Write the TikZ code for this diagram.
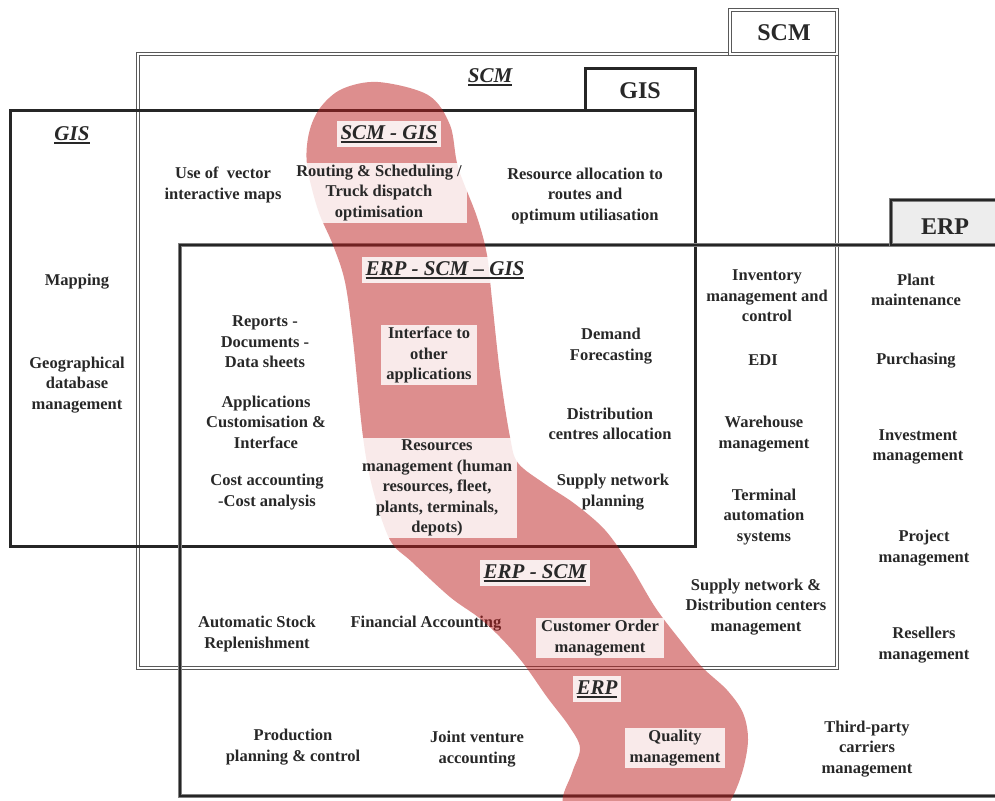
\documentclass[tikz,border=0pt]{standalone}
\usepackage{fontspec}
\setmainfont{Liberation Serif}
\newcommand\bodyfont{\fontsize{16.5}{20.5}\selectfont\bfseries}
\newcommand\headfont{\fontsize{21}{24}\selectfont\bfseries\itshape}
\newcommand\tabfont{\fontsize{24}{28}\selectfont\bfseries}
% text with a heavy rule beneath it
\newcommand\ulbar[1]{\setbox0\hbox{#1}\rlap{\rule[-3.5pt]{\wd0}{1.8pt}}\box0}
\definecolor{ink}{RGB}{40,40,40}
\definecolor{blobred}{RGB}{187,29,29}
\begin{document}
\begin{tikzpicture}[x=1pt,y=-1pt,
  scmline/.style={draw=black!65, line width=1.4pt, double=white, double distance=1.7pt},
  gisline/.style={draw=black!85, line width=3pt},
  erpline/.style={draw=black!50, line width=1.6pt, double=black!85, double distance=1.6pt},
  txt/.style={font=\bodyfont, text=ink, align=center, inner sep=0pt},
  lab/.style={txt, fill=white, fill opacity=0.82, text opacity=1, inner xsep=5pt, inner ysep=2pt},
  head/.style={font=\headfont, text=ink, inner sep=0pt},
  headlab/.style={head, fill=white, fill opacity=0.85, text opacity=1, inner xsep=4pt, inner ysep=4pt},
  tablabel/.style={font=\tabfont, text=ink, inner sep=0pt},
  blob/.style={fill=blobred, fill opacity=0.5}]
\useasboundingbox (0,0) rectangle (995,800);

% ---- system boundaries ----
\draw[scmline] (138,54) rectangle (837,668);
\draw[scmline, fill=white] (730,10) rectangle (837,54);
\draw[gisline] (10,110) rectangle (695,546);
\draw[gisline, fill=white] (585,68) rectangle (695,110);
\draw[erpline] (180,245) rectangle (1010,796);
\draw[erpline, fill=black!7] (891,200) rectangle (1010,245);

\node[tablabel] (tscm) at (784,33) {SCM};
\node[tablabel] (tgis) at (640,91) {GIS};
\node[tablabel] (terp) at (945,227) {ERP};

% ---- area headings ----
\node[head] (gisH) at (72,135) {\ulbar{GIS}};
\node[head] (scmH) at (490,77) {\ulbar{SCM}};

% ---- GIS only ----
\node[txt] (mapping) at (77,282) {Mapping};
\node[txt] (geodb) at (77,385) {Geographical\\database\\management};

% ---- SCM and GIS ----
\node[txt] (vector) at (223,185) {Use of\ \ vector\\interactive maps};
\node[txt] (resalloc) at (585,196) {Resource allocation to\\routes and\\optimum utiliasation};

% ---- ERP, SCM and GIS ----
\node[txt] (reports) at (265,342) {Reports -\\Documents -\\Data sheets};
\node[txt] (applic) at (266,422) {Applications\\Customisation \&\\Interface};
\node[txt] (cost) at (267,492) {Cost accounting\\-Cost analysis};
\node[txt] (demand) at (611,346) {Demand\\Forecasting};
\node[txt] (distrib) at (610,424) {Distribution\\centres allocation};
\node[txt] (supplyplan) at (613,492) {Supply network\\planning};

% ---- ERP and SCM ----
\node[txt] (inventory) at (767,296) {Inventory\\management and\\control};
\node[txt] (edi) at (763,360) {EDI};
\node[txt] (warehouse) at (764,434) {Warehouse\\management};
\node[txt] (terminal) at (764,517) {Terminal\\automation\\systems};
\node[txt] (supplydc) at (756,607) {Supply network \&\\Distribution centers\\management};
\node[txt] (autostock) at (257,634) {Automatic Stock\\Replenishment};
\node[txt] (financial) at (426,624) {Financial Accounting};

% ---- ERP only ----
\node[txt] (plant) at (916,290) {Plant\\maintenance};
\node[txt] (purchasing) at (916,361) {Purchasing};
\node[txt] (investment) at (918,447) {Investment\\management};
\node[txt] (project) at (924,548) {Project\\management};
\node[txt] (resellers) at (924,645) {Resellers\\management};
\node[txt] (production) at (293,747) {Production\\planning \& control};
\node[txt] (joint) at (477,749) {Joint venture\\accounting};
\node[txt] (thirdparty) at (867,749) {Third-party\\carriers\\management};

% ---- highlighted band across the three systems ----
\begin{scope}
  \clip (0,0) rectangle (995,800);
  \fill[blob] plot[smooth cycle, tension=0.55] coordinates {
    (378,82) (428,95) (450,125) (458,167) (477,217) (487,255) (492,300)
    (500,373) (510,437) (518,463) (545,484) (575,504) (605,530) (630,565)
    (655,607) (680,640) (702,667) (727,690) (743,713) (748,740) (742,773)
    (728,805) (700,840) (590,840) (563,805) (572,773) (580,748) (569,726)
    (547,697) (523,663) (500,637) (478,617) (450,597) (412,562) (390,540)
    (373,490) (363,437) (353,340) (345,282) (333,245) (318,210) (307,165)
    (309,133) (320,108) (342,89)};
\end{scope}

% ---- labels on the band ----
\node[headlab] (scmgis) at (389,134) {\ulbar{SCM - GIS}};
\node[lab] (routing) at (379,193) {Routing \& Scheduling /\\Truck dispatch\\optimisation};
\node[headlab] (erpscmgis) at (445,270) {\ulbar{ERP - SCM -- GIS}};
\node[lab] (interface) at (429,355) {Interface to\\other\\applications};
\node[lab] (resources) at (437,488) {Resources\\management (human\\resources, fleet,\\plants, terminals,\\depots)};
\node[headlab] (erpscm) at (535,573) {\ulbar{ERP - SCM}};
\node[lab] (customer) at (600,638) {Customer Order\\management};
\node[headlab] (erpH) at (597,689) {\ulbar{ERP}};
\node[lab] (quality) at (675,748) {Quality\\management};
\end{tikzpicture}
\end{document}
